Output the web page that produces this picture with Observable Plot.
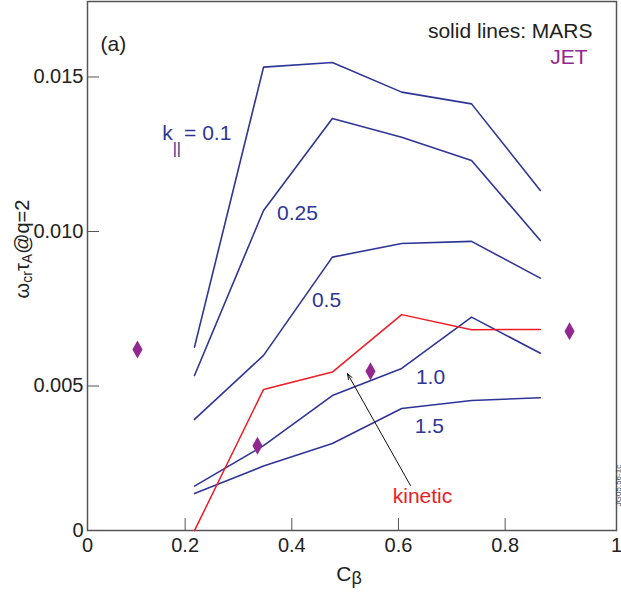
<!DOCTYPE html>
<html><head><meta charset="utf-8">
<script src="https://cdn.jsdelivr.net/npm/d3@7"></script>
<script src="https://cdn.jsdelivr.net/npm/@observablehq/plot@0.6"></script>
<style>
html,body{margin:0;padding:0;background:#fff;}
</style>
</head><body><div id="chart"></div>
<script>
// C_beta positions of the MARS scan points
const cBeta = [0.2175, 0.347, 0.476, 0.606, 0.737, 0.866];
// omega_cr * tau_A @ q=2 for each k_parallel (MARS)
const k010 = [0.00626, 0.01532, 0.01547, 0.01451, 0.01413, 0.01133];
const k025 = [0.00534, 0.01068, 0.01366, 0.01305, 0.01230, 0.00971];
const k050 = [0.00392, 0.00599, 0.00917, 0.00961, 0.00968, 0.00849];
const k100 = [0.00176, 0.00307, 0.00469, 0.00557, 0.00723, 0.00606];
const k150 = [0.00152, 0.00241, 0.00314, 0.00427, 0.00453, 0.00462];
const kinetic = [0.00032, 0.00489, 0.00545, 0.00731, 0.00682, 0.00683];
const seriesNames = ["0.1", "0.25", "0.5", "1.0", "1.5", "kinetic"];
const seriesValues = [k010, k025, k050, k100, k150, kinetic];

// JET points
const jetCb = [0.1106, 0.3356, 0.5475, 0.9207];
const jetOmega = [0.00618, 0.00307, 0.00548, 0.00677];

// line labels (in data units)
const labelText = ["0.25", "0.5", "1.0", "1.5", "kinetic"];
const labelCb = [0.4106, 0.465, 0.660, 0.658, 0.645];
const labelOmega = [0.01058, 0.00777, 0.00528, 0.00371, 0.00142];
const kLabelText = ["k|| = 0.1"];
const kLabelCb = [0.157];
const kLabelOmega = [0.01317];

// arrow from "kinetic" label to the kinetic curve
const arrowFrom = [0.6225, 0.00178];
const arrowTo = [0.5044, 0.00540];

// axes
const xTickValues = [0.2, 0.4, 0.6, 0.8];
const yTickValues = [0.005, 0.010, 0.015];
const xDomain = [0.0169, 1.0088];
const yDomain = [0.000324, 0.017443];

const blue = "#2e3596", red = "#ed1c24", purple = "#92278f", ink = "#222";

const rows = [];
seriesNames.forEach((s, i) => cBeta.forEach((c, j) => rows.push({series: s, cb: c, w: seriesValues[i][j]})));
const jet = jetCb.map((c, i) => ({cb: c, w: jetOmega[i]}));
const labels = labelText.map((t, i) => ({t, cb: labelCb[i], w: labelOmega[i]}));
const kLabels = kLabelText.map((t, i) => ({t, cb: kLabelCb[i], w: kLabelOmega[i]}));

const tallDiamond = {
  draw(ctx, size) {
    const r = Math.sqrt(size / Math.PI), h = r, w = r * 0.56;
    ctx.moveTo(0, -h); ctx.lineTo(w, 0); ctx.lineTo(0, h); ctx.lineTo(-w, 0); ctx.closePath();
  }
};

const yLabel = "ωcrτA@q=2";
const xLabel = "Cβ";

const chart = Plot.plot({
  width: 621,
  height: 601,
  marginLeft: 87,
  marginRight: 5,
  marginTop: 1,
  marginBottom: 71,
  style: {fontFamily: "'Liberation Sans', Arial, Helvetica, sans-serif", fontSize: "20px", background: "#fff", color: ink},
  x: {domain: xDomain},
  y: {domain: yDomain},
  marks: [
    Plot.frame({stroke: "#555", strokeWidth: 1.5}),
    Plot.axisX([xDomain[0], ...xTickValues, xDomain[1]], {
      tickSize: -12, tickPadding: 19, stroke: "#555", fill: ink, label: null,
      tickFormat: d => d < 0.1 ? "0" : d > 0.99 ? "1" : d.toFixed(1)
    }),
    Plot.axisY([yDomain[0], ...yTickValues], {
      tickSize: -12, tickPadding: 16, stroke: "#555", fill: ink, label: null,
      tickFormat: d => d < 0.001 ? "0" : d.toFixed(3)
    }),
    Plot.line(rows.filter(d => d.series !== "kinetic"), {x: "cb", y: "w", z: "series", stroke: blue, strokeWidth: 1.6}),
    Plot.line(rows.filter(d => d.series === "kinetic"), {x: "cb", y: "w", stroke: red, strokeWidth: 1.5}),
    Plot.dot(jet, {x: "cb", y: "w", symbol: tallDiamond, r: 9, fill: purple, stroke: null}),
    Plot.arrow([{}], {x1: () => arrowFrom[0], y1: () => arrowFrom[1], x2: () => arrowTo[0], y2: () => arrowTo[1], stroke: "#111", strokeWidth: 1, headLength: 9, headAngle: 40}),
    Plot.text(labels, {x: "cb", y: "w", text: "t", textAnchor: "middle", fontSize: 21, fill: d => d.t === "kinetic" ? red : blue}),
    Plot.text(kLabels, {x: "cb", y: "w", text: "t", textAnchor: "start", fontSize: 21, fill: blue}),
    Plot.text(["(a)"], {frameAnchor: "top-left", dx: 13, dy: 35, textAnchor: "start", fontSize: 21, fill: ink}),
    Plot.text(["solid lines: MARS"], {frameAnchor: "top-right", dx: -24, dy: 22, textAnchor: "end", fontSize: 21, fill: ink}),
    Plot.text(["JET"], {frameAnchor: "top-right", dx: -29, dy: 47.5, textAnchor: "end", fontSize: 21, fill: purple}),
    Plot.text([yLabel], {frameAnchor: "left", dx: -65, dy: -17, rotate: -90, textAnchor: "middle", fill: ink}),
    Plot.text([xLabel], {frameAnchor: "bottom", dx: -3, dy: 50.5, textAnchor: "middle", fontSize: 21, fill: ink}),
    Plot.text(["JG05.56-1c"], {frameAnchor: "bottom-right", dx: 4, dy: -45, rotate: -90, textAnchor: "middle", fill: "#444", fontSize: 8})
  ]
});

function richen(svg, plain, html) {
  svg.querySelectorAll("text").forEach(t => { if (t.textContent === plain) t.innerHTML = html; });
}
richen(chart, yLabel, 'ω<tspan font-size="14" dy="3">cr</tspan><tspan dy="-3">τ</tspan><tspan font-size="14" dy="3">A</tspan><tspan dy="-3">@q=2</tspan>');
richen(chart, xLabel, 'C<tspan font-size="18" dy="3">β</tspan>');
richen(chart, "k|| = 0.1", 'k<tspan font-size="16" dy="14">||</tspan><tspan dy="-14" dx="3">= 0.1</tspan>');

document.getElementById("chart").appendChild(chart);
</script>
</body></html>
